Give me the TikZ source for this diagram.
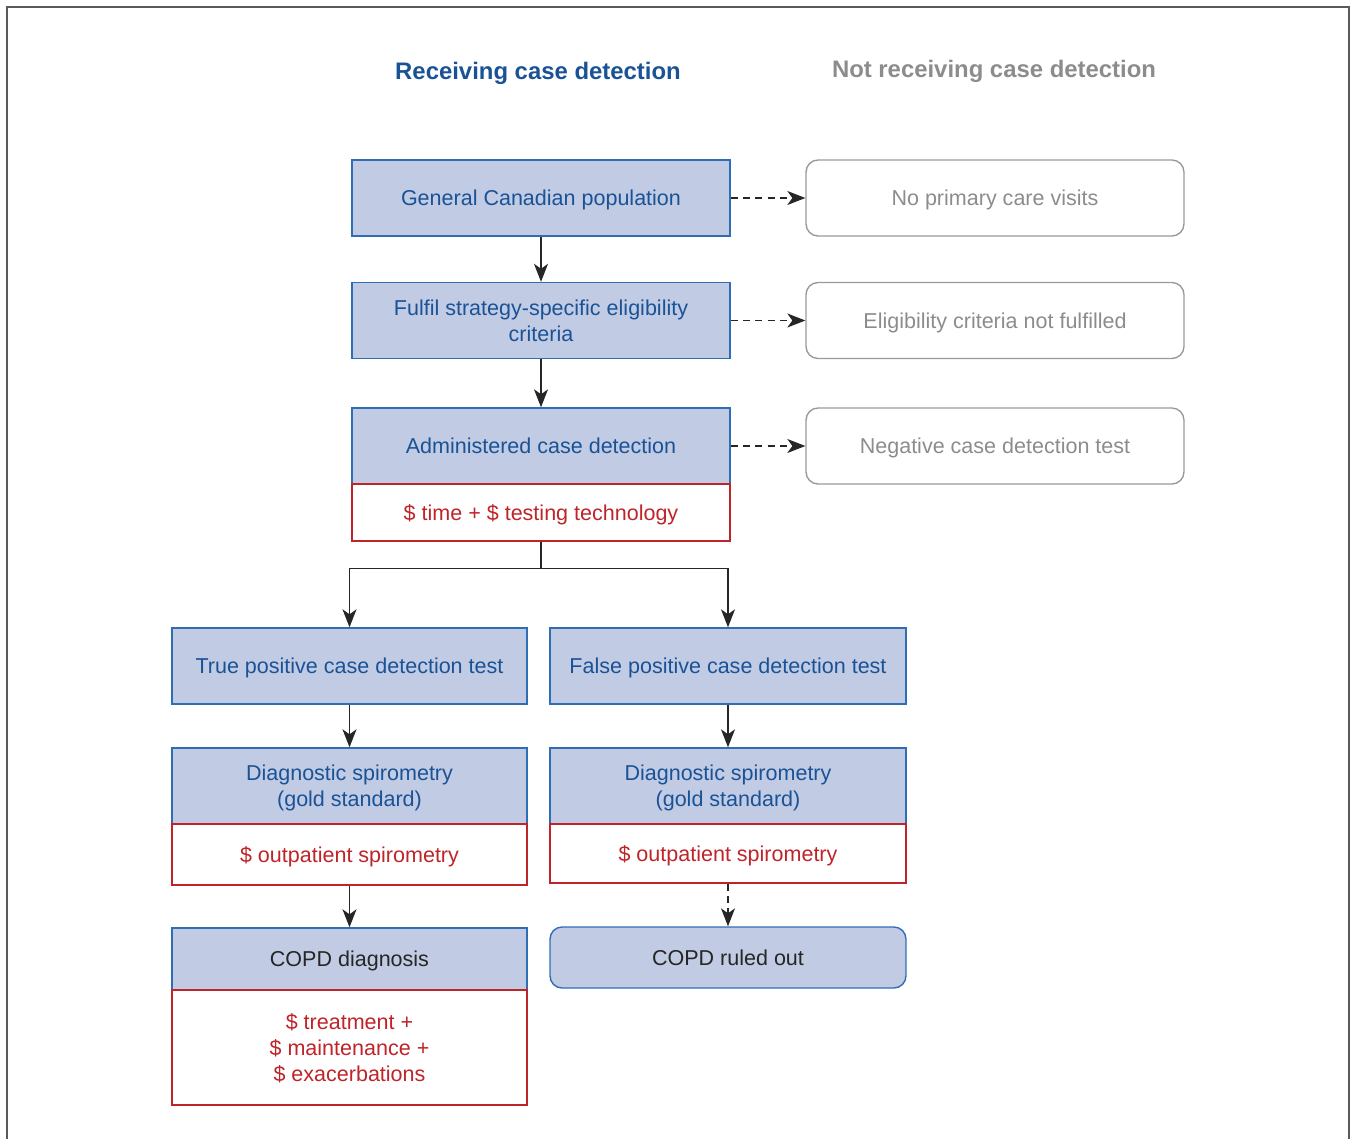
\documentclass[tikz,border=0pt]{standalone}
\usepackage{fontspec}
\setmainfont{Liberation Sans}
\usetikzlibrary{arrows.meta, positioning}

\definecolor{boxblue}{HTML}{C1CBE3}
\definecolor{edgeblue}{HTML}{2F6EB3}
\definecolor{textblue}{HTML}{1A5296}
\definecolor{costred}{HTML}{BF2429}
\definecolor{greytext}{HTML}{8C8C8C}
\definecolor{greyedge}{HTML}{9A9A9A}
\definecolor{framegrey}{HTML}{5A5A5A}

\begin{document}
\begin{tikzpicture}[x=0.02cm, y=-0.02cm,
    boxfont/.style={font=\fontsize{12.25}{14.8}\selectfont, text depth=0pt},
    bluebox/.style={boxfont, draw=edgeblue, fill=boxblue, text=textblue, line width=0.8pt,
        minimum height=1.52cm, align=center, inner sep=0pt},
    costbox/.style={boxfont, draw=costred, fill=white, text=costred, line width=0.8pt,
        align=center, inner sep=0pt},
    notbox/.style={boxfont, draw=greyedge, text=greytext, line width=0.8pt, rounded corners=0.24cm,
        minimum width=7.56cm, minimum height=1.52cm, align=center, inner sep=0pt},
    heading/.style={font=\fontsize{13.6}{16}\selectfont\bfseries},
    arr/.style={-{Stealth[length=3.6mm, width=2.8mm, inset=1mm]}, line width=0.9pt, draw=black!85},
    darr/.style={arr, dashed, dash pattern=on 4pt off 3pt, line width=0.7pt}]

    % canvas and open frame
    \useasboundingbox (0,0) rectangle (1353,1139);
    \draw[framegrey, line width=1.2pt] (7,1139) -- (7,7) -- (1349,7) -- (1349,1139);

    % --- Column headings ---
    \node[heading, text=textblue] (headrec) at (538,73) {Receiving case detection};
    \node[heading, text=greytext] (headnot) at (994,71) {Not receiving case detection};

    % --- Main column ---
    \node[bluebox, minimum width=7.56cm] (gen) at (541,198) {General Canadian population};
    \node[bluebox, minimum width=7.56cm] (elig) at (541,320.5) {Fulfil strategy-specific eligibility\\criteria};
    \node[bluebox, minimum width=7.56cm] (adm) at (541,446) {Administered case detection};
    \node[costbox, minimum width=7.56cm, minimum height=1.14cm] (admcost) at (541,512.5) {\$ time + \$ testing technology};

    % --- Not receiving column ---
    \node[notbox] (noprim) at (995,198) {No primary care visits};
    \node[notbox] (noelig) at (995,320.5) {Eligibility criteria not fulfilled};
    \node[notbox] (noneg) at (995,446) {Negative case detection test};

    % --- True positive branch ---
    \node[bluebox, minimum width=7.1cm] (truepos) at (349.5,666) {True positive case detection test};
    \node[bluebox, minimum width=7.1cm] (spiroL) at (349.5,786) {Diagnostic spirometry\\(gold standard)};
    \node[costbox, minimum width=7.1cm, minimum height=1.22cm] (spiroLcost) at (349.5,854.5) {\$ outpatient spirometry};
    \node[bluebox, minimum width=7.1cm, minimum height=1.24cm, text=black!85] (copd) at (349.5,959) {COPD diagnosis};
    \node[costbox, minimum width=7.1cm, minimum height=2.3cm] (copdcost) at (349.5,1047.5) {\$ treatment +\\\$ maintenance +\\\$ exacerbations};

    % --- False positive branch ---
    \node[bluebox, minimum width=7.12cm] (falsepos) at (728,666) {False positive case detection test};
    \node[bluebox, minimum width=7.12cm] (spiroR) at (728,786) {Diagnostic spirometry\\(gold standard)};
    \node[costbox, minimum width=7.12cm, minimum height=1.18cm] (spiroRcost) at (728,853.5) {\$ outpatient spirometry};
    \node[bluebox, minimum width=7.12cm, minimum height=1.22cm, rounded corners=0.24cm, text=black!85] (ruled) at (728,957.5) {COPD ruled out};

    % --- Connectors ---
    \draw[arr] (gen) -- (elig);
    \draw[arr] (elig) -- (adm);
    \draw[darr] (gen) -- (noprim);
    \draw[darr] (elig) -- (noelig);
    \draw[darr] (adm) -- (noneg);

    \draw[arr, -] (admcost.south) -- ++(0,27) coordinate (split);
    \draw[arr] (split) -| (truepos);
    \draw[arr] (split) -| (falsepos);

    \draw[arr] (truepos) -- (spiroL);
    \draw[arr] (spiroLcost) -- (copd);
    \draw[arr] (falsepos) -- (spiroR);
    \draw[darr] (spiroRcost) -- (ruled);
\end{tikzpicture}
\end{document}
